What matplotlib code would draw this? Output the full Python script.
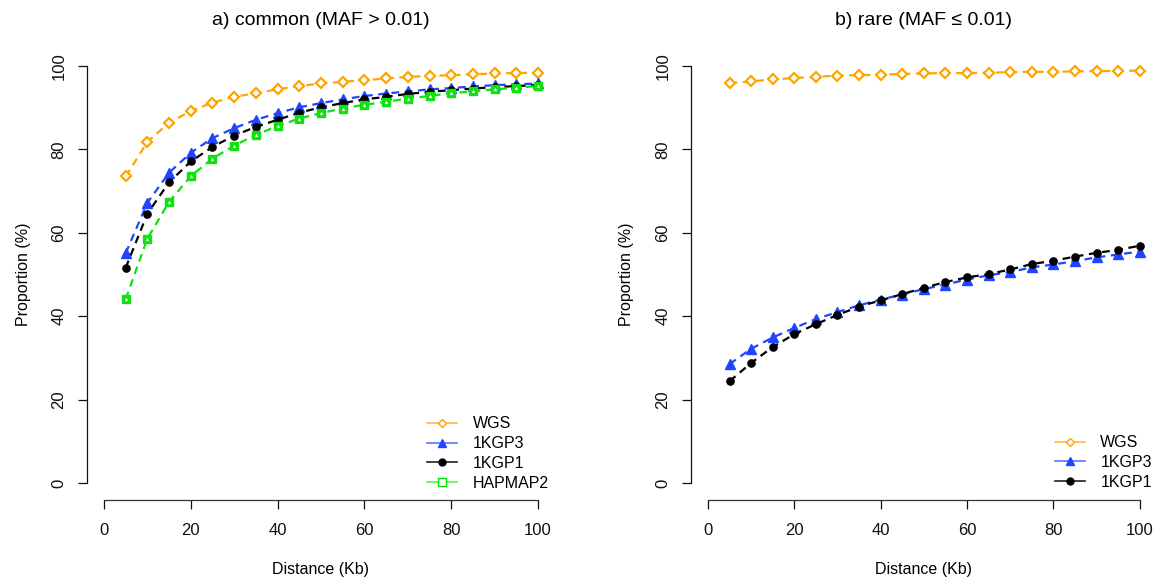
import matplotlib
matplotlib.use("Agg")
import matplotlib.pyplot as plt
from matplotlib.lines import Line2D

plt.rcParams['font.family'] = ['Liberation Sans', 'DejaVu Sans']

distance = [5, 10, 15, 20, 25, 30, 35, 40, 45, 50, 55, 60, 65, 70, 75, 80, 85, 90, 95, 100]

# a) common
common_wgs = [73.5, 81.8, 86.4, 89.2, 91.2, 92.6, 93.5, 94.4, 95.2, 95.8,
              96.2, 96.6, 97.0, 97.4, 97.6, 97.8, 98.0, 98.2, 98.3, 98.4]
common_1kgp3 = [55.1, 67.2, 74.4, 79.2, 82.7, 85.1, 87.1, 88.7, 90.1, 91.1,
                92.0, 92.8, 93.4, 93.9, 94.4, 94.7, 95.1, 95.4, 95.6, 95.8]
common_1kgp1 = [51.6, 64.6, 72.1, 77.1, 80.6, 83.3, 85.4, 87.1, 88.8, 90.1,
                91.1, 92.0, 92.6, 93.3, 93.8, 94.2, 94.6, 94.9, 95.2, 95.4]
common_hapmap2 = [44.1, 58.6, 67.4, 73.6, 77.8, 80.9, 83.5, 85.6, 87.4, 88.7,
                  89.8, 90.7, 91.4, 92.2, 92.8, 93.5, 93.9, 94.4, 94.8, 95.2]

# b) rare
rare_wgs = [95.9, 96.3, 96.8, 97.1, 97.4, 97.7, 97.8, 97.9, 98.1, 98.2,
            98.3, 98.3, 98.4, 98.5, 98.6, 98.6, 98.7, 98.8, 98.8, 98.9]
rare_1kgp3 = [28.5, 32.2, 34.9, 37.2, 39.3, 41.0, 42.6, 44.0, 45.2, 46.5,
              47.6, 48.8, 49.8, 50.6, 51.7, 52.4, 53.2, 54.1, 54.8, 55.5]
rare_1kgp1 = [24.4, 28.8, 32.6, 35.7, 38.1, 40.3, 42.3, 43.8, 45.3, 46.8,
              48.2, 49.3, 50.1, 51.2, 52.5, 53.3, 54.3, 55.2, 55.9, 56.9]

titles = ["a) common (MAF > 0.01)", "b) rare (MAF \u2264 0.01)"]
ticks = [0, 20, 40, 60, 80, 100]

ORANGE = "#FFA500"
BLUE = "#1F45FF"
BLACK = "#000000"
GREEN = "#11E011"

W, H = 1161, 585
fig = plt.figure(figsize=(W / 100, H / 100), dpi=100)
ax1 = fig.add_axes([86.6 / W, (H - 499.7) / H, 468.8 / W, 450.4 / H])
ax2 = fig.add_axes([690.7 / W, (H - 499.7) / H, 466.3 / W, 450.4 / H])

dash = (0, (3.5, 2.5))
LW = 1.6


def draw(ax, x, y, color, marker, ms, mfc, mec, mew=1.0):
    ax.plot(x, y, color=color, linestyle=dash, lw=LW, marker=marker, ms=ms,
            mfc=mfc, mec=mec, mew=mew, zorder=3)


def style(ax, title, lx):
    ax.set_xlim(-4, 104)
    ax.set_ylim(-4, 104)
    for s in ['top', 'right']:
        ax.spines[s].set_visible(False)
    ax.spines['left'].set_bounds(0, 100)
    ax.spines['bottom'].set_bounds(0, 100)
    ax.spines['left'].set_color('#111111')
    ax.spines['bottom'].set_color('#333333')
    ax.spines['left'].set_linewidth(0.9)
    ax.spines['bottom'].set_linewidth(0.9)
    ax.set_xticks(ticks)
    ax.set_yticks(ticks)
    ax.tick_params(axis='both', length=6.5, width=0.9, labelsize=12, colors='#111111')
    ax.tick_params(axis='x', pad=10)
    ax.tick_params(axis='y', pad=8)
    for lab in ax.get_yticklabels():
        lab.set_rotation(90)
        lab.set_va('center')
    ax.set_xlabel("Distance (Kb)", fontsize=11.5)
    ax.set_ylabel("Proportion (%)", fontsize=11.5)
    ax.xaxis.set_label_coords(0.5, -0.139)
    ax.yaxis.set_label_coords(lx, 0.5)
    ax.text(0.5, 1.063, title, transform=ax.transAxes, ha='center', va='center', fontsize=14)


# Left panel
draw(ax1, distance, common_wgs, ORANGE, 'D', 5.5, 'white', ORANGE, 1.6)
draw(ax1, distance, common_1kgp3, BLUE, '^', 7, BLUE, BLUE)
draw(ax1, distance, common_1kgp1, BLACK, 'o', 5.2, BLACK, BLACK)
draw(ax1, distance, common_hapmap2, GREEN, 's', 6.0, GREEN, GREEN)
ax1.plot(distance, common_hapmap2, linestyle='none', marker='^', ms=2, mfc='white',
         mec='white', mew=0.3, zorder=4)
style(ax1, titles[0], -0.119)

# Right panel
draw(ax2, distance, rare_wgs, ORANGE, 'D', 5.5, 'white', ORANGE, 1.6)
draw(ax2, distance, rare_1kgp3, BLUE, '^', 7, BLUE, BLUE)
draw(ax2, distance, rare_1kgp1, BLACK, 'o', 5.2, BLACK, BLACK)
style(ax2, titles[1], -0.121)

# Legends
def handles(specs):
    hs = []
    for color, lcolor, marker, ms, mfc in specs:
        hs.append(Line2D([0], [0], color=lcolor, lw=1.2, marker=marker, ms=ms,
                         mfc=mfc, mec=color, mew=1.0))
    return hs

spec_wgs = (ORANGE, "#FFB940", 'D', 4.5, 'white')
spec_k3 = (BLUE, "#5577FF", '^', 6, BLUE)
spec_k1 = (BLACK, "#222222", 'o', 5, BLACK)
spec_hm = ("#00DD00", "#44FF44", 's', 5.5, 'white')

leg_kw = dict(frameon=False, fontsize=11.5, handlelength=1.9, handletextpad=0.95,
              labelspacing=0.3, borderpad=0, borderaxespad=0, loc='lower left')
ax1.legend(handles([spec_wgs, spec_k3, spec_k1, spec_hm]),
           ["WGS", "1KGP3", "1KGP1", "HAPMAP2"],
           bbox_to_anchor=(0.726, 0.02), **leg_kw)
ax2.legend(handles([spec_wgs, spec_k3, spec_k1]),
           ["WGS", "1KGP3", "1KGP1"],
           bbox_to_anchor=(0.781, 0.022), **leg_kw)

fig.savefig("out.png", dpi=100)
